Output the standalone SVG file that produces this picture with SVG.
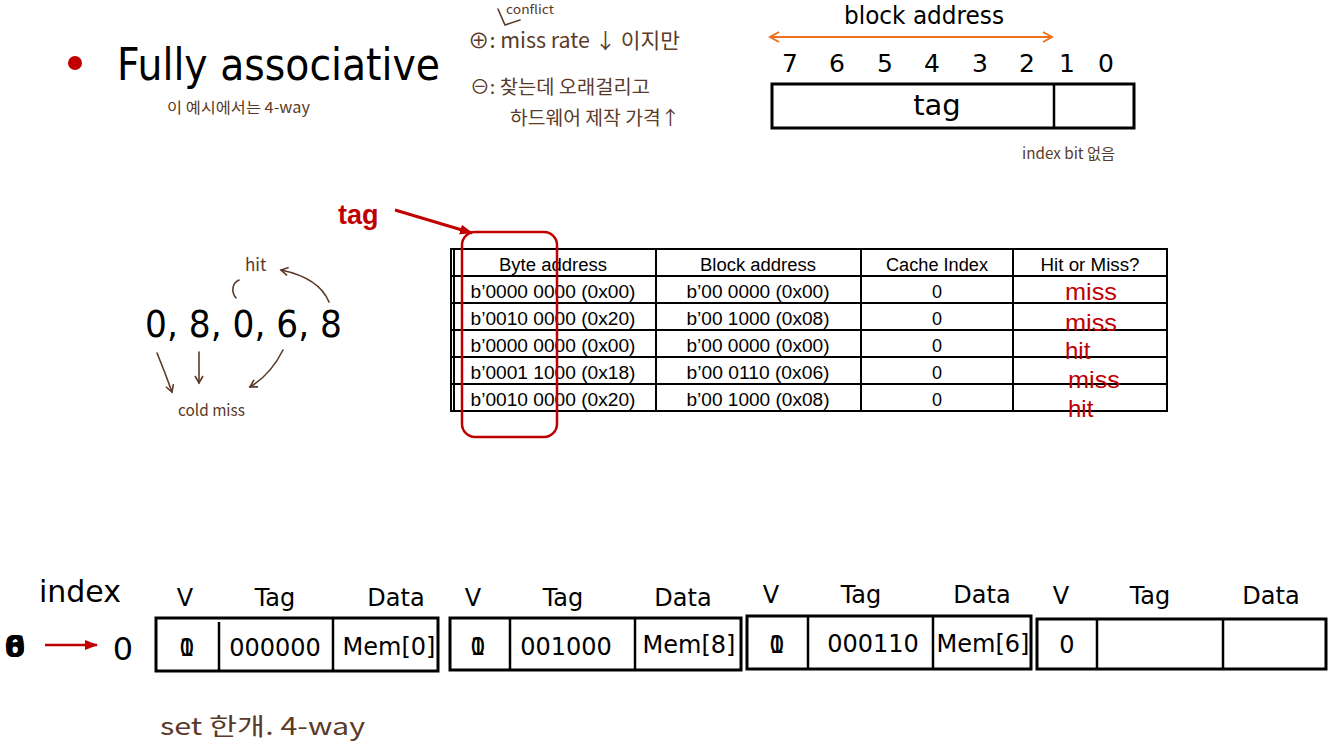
<svg xmlns="http://www.w3.org/2000/svg" width="1336" height="756" viewBox="0 0 1336 756">
<defs>
<style>
.t{font-family:"DejaVu Sans","Liberation Sans",sans-serif;fill:#000}
.c{font-family:"Liberation Sans","Noto Sans",sans-serif;fill:#000;font-size:18px;text-anchor:middle}
.r{font-family:"Liberation Sans","Noto Sans",sans-serif;fill:#c00000;font-size:24px}
.h{font-family:"Noto Sans CJK KR","Noto Sans",sans-serif;fill:#5a3a28;font-weight:400}
.box{fill:#fff;stroke:#000;stroke-width:3}
.ln{stroke:#000;stroke-width:2.5}
.tb{stroke:#000;stroke-width:2;fill:none}
.hw{stroke:#5a3a28;stroke-width:1.6;fill:none;stroke-linecap:round}
</style>
<marker id="oa" markerWidth="12" markerHeight="12" refX="10" refY="6" orient="auto-start-reverse" markerUnits="userSpaceOnUse"><path d="M1,1 L10,6 L1,11" fill="none" stroke="#f07020" stroke-width="2"/></marker>
<marker id="ra" markerWidth="14" markerHeight="12" refX="12" refY="6" orient="auto" markerUnits="userSpaceOnUse"><path d="M0,1 L13,6 L0,11 Z" fill="#c00000"/></marker>
<marker id="ha" markerWidth="10" markerHeight="10" refX="8" refY="5" orient="auto" markerUnits="userSpaceOnUse"><path d="M1,1 L8,5 L1,9" fill="none" stroke="#5a3a28" stroke-width="1.6"/></marker>
</defs>

<g id="title">
<circle cx="75" cy="63" r="7" fill="#c00000"/>
<text class="t" x="117" y="80" font-size="44" textLength="323" lengthAdjust="spacingAndGlyphs">Fully associative</text>
</g>

<g id="notes" class="h">
<text x="167" y="113" font-size="15" textLength="143" lengthAdjust="spacingAndGlyphs">이 예시에서는  4-way</text>
<text x="506" y="14" font-size="12" textLength="48" lengthAdjust="spacingAndGlyphs">conflict</text>
<text x="468" y="48" font-size="21" textLength="212" lengthAdjust="spacingAndGlyphs">⊕:  miss rate ↓ 이지만</text>
<text x="470" y="94" font-size="19" textLength="180" lengthAdjust="spacingAndGlyphs">⊖: 찾는데 오래걸리고</text>
<text x="510" y="125" font-size="19" textLength="170" lengthAdjust="spacingAndGlyphs">하드웨어  제작  가격↑</text>
<text x="1022" y="159" font-size="15" textLength="93" lengthAdjust="spacingAndGlyphs">index bit 없음</text>
<text x="245" y="271" font-size="17">hit</text>
<text x="178" y="416" font-size="16" textLength="67" lengthAdjust="spacingAndGlyphs">cold miss</text>
<text x="160" y="735" font-size="24" textLength="205" lengthAdjust="spacingAndGlyphs">set  한개.   4-way</text>
</g>
<g id="note-lines">
<path class="hw" d="M498,9 L505,25 L520,20"/>
</g>

<g id="block-address">
<text class="t" x="924" y="24" font-size="25" text-anchor="middle" textLength="160" lengthAdjust="spacingAndGlyphs">block address</text>
<line x1="770" y1="37" x2="1052" y2="37" stroke="#f07020" stroke-width="2" marker-start="url(#oa)" marker-end="url(#oa)"/>
<g class="t" font-size="25" text-anchor="middle">
<text x="790" y="72">7</text><text x="837" y="72">6</text><text x="885" y="72">5</text><text x="932" y="72">4</text><text x="980" y="72">3</text><text x="1027" y="72">2</text><text x="1067" y="72">1</text><text x="1106" y="72">0</text>
</g>
<rect class="box" x="772" y="84" width="362" height="44"/>
<line class="ln" x1="1054" y1="84" x2="1054" y2="128"/>
<text class="t" x="937" y="115" font-size="29" text-anchor="middle">tag</text>
</g>

<g id="sequence">
<text class="t" x="145" y="337" font-size="37" textLength="197" lengthAdjust="spacingAndGlyphs">0, 8, 0, 6, 8</text>
</g>
<g id="sequence-arrows">
<path class="hw" d="M236,298 C231,292 232,283 239,280"/>
<path class="hw" d="M329,302 C322,285 305,275 281,270" marker-end="url(#ha)"/>
<path class="hw" d="M157,353 C162,365 167,378 172,392" marker-end="url(#ha)"/>
<path class="hw" d="M199,352 L199,383" marker-end="url(#ha)"/>
<path class="hw" d="M283,350 C275,366 265,378 250,387" marker-end="url(#ha)"/>
</g>

<g id="tag-label">
<text x="338" y="224" font-family="Liberation Sans,sans-serif" font-weight="bold" font-size="27" fill="#c00000">tag</text>
</g>

<g id="table">
<rect class="tb" x="451" y="249" width="716" height="162"/>
<line class="tb" x1="454" y1="249" x2="454" y2="411"/>
<g class="tb">
<line x1="451" y1="276" x2="1167" y2="276"/>
<line x1="451" y1="303" x2="1167" y2="303"/>
<line x1="451" y1="330" x2="1167" y2="330"/>
<line x1="451" y1="357" x2="1167" y2="357"/>
<line x1="451" y1="384" x2="1167" y2="384"/>
<line x1="656" y1="249" x2="656" y2="411"/>
<line x1="861" y1="249" x2="861" y2="411"/>
<line x1="1013" y1="249" x2="1013" y2="411"/>
</g>
<text class="c" x="553" y="271" textLength="108" lengthAdjust="spacingAndGlyphs">Byte address</text>
<text class="c" x="758" y="271" textLength="116" lengthAdjust="spacingAndGlyphs">Block address</text>
<text class="c" x="937" y="271" textLength="102" lengthAdjust="spacingAndGlyphs">Cache Index</text>
<text class="c" x="1090" y="271" textLength="99" lengthAdjust="spacingAndGlyphs">Hit or Miss?</text>
<g class="c">
<text x="553" y="298" textLength="165" lengthAdjust="spacingAndGlyphs">b’0000 0000 (0x00)</text>
<text x="553" y="325" textLength="165" lengthAdjust="spacingAndGlyphs">b’0010 0000 (0x20)</text>
<text x="553" y="352" textLength="165" lengthAdjust="spacingAndGlyphs">b’0000 0000 (0x00)</text>
<text x="553" y="379" textLength="165" lengthAdjust="spacingAndGlyphs">b’0001 1000 (0x18)</text>
<text x="553" y="406" textLength="165" lengthAdjust="spacingAndGlyphs">b’0010 0000 (0x20)</text>
<text x="758" y="298" textLength="143" lengthAdjust="spacingAndGlyphs">b’00 0000 (0x00)</text>
<text x="758" y="325" textLength="143" lengthAdjust="spacingAndGlyphs">b’00 1000 (0x08)</text>
<text x="758" y="352" textLength="143" lengthAdjust="spacingAndGlyphs">b’00 0000 (0x00)</text>
<text x="758" y="379" textLength="143" lengthAdjust="spacingAndGlyphs">b’00 0110 (0x06)</text>
<text x="758" y="406" textLength="143" lengthAdjust="spacingAndGlyphs">b’00 1000 (0x08)</text>
<text x="937" y="298">0</text>
<text x="937" y="325">0</text>
<text x="937" y="352">0</text>
<text x="937" y="379">0</text>
<text x="937" y="406">0</text>
</g>
<text class="r" x="1065" y="300" textLength="52" lengthAdjust="spacingAndGlyphs">miss</text>
<text class="r" x="1065" y="331" textLength="52" lengthAdjust="spacingAndGlyphs">miss</text>
<text class="r" x="1065" y="359">hit</text>
<text class="r" x="1068" y="388" textLength="52" lengthAdjust="spacingAndGlyphs">miss</text>
<text class="r" x="1068" y="417">hit</text>
</g>

<g id="tag-highlight">
<rect x="462" y="232" width="95" height="205" rx="13" fill="none" stroke="#c00000" stroke-width="2.5"/>
</g>

<g id="connectors">
<line x1="395" y1="210" x2="472" y2="233" stroke="#c00000" stroke-width="3" marker-end="url(#ra)"/>
<line x1="45" y1="645" x2="97" y2="645" stroke="#c00000" stroke-width="2.5" marker-end="url(#ra)"/>
</g>

<g id="index">
<text class="t" x="80" y="602" font-size="30" text-anchor="middle">index</text>
<g class="t" font-size="30" font-weight="bold" text-anchor="middle">
<text x="15" y="657">8</text><text x="15" y="657">6</text><text x="15" y="657">0</text>
</g>
<text class="t" x="123" y="660" font-size="32" text-anchor="middle">0</text>
</g>

<g id="way0">
<rect class="box" x="156" y="618" width="282" height="53"/>
<line class="ln" x1="219" y1="622" x2="219" y2="671"/>
<line class="ln" x1="333" y1="618" x2="333" y2="671"/>
<g class="t" font-size="24" text-anchor="middle">
<text x="185" y="606">V</text><text x="275" y="606">Tag</text><text x="396" y="606">Data</text>
<text x="187" y="656">0</text><text x="187" y="656">1</text>
<text x="275" y="656">000000</text><text x="389" y="655">Mem[0]</text>
</g>
</g>

<g id="way1">
<rect class="box" x="450" y="618" width="291" height="52"/>
<line class="ln" x1="510" y1="618" x2="510" y2="670"/>
<line class="ln" x1="635" y1="618" x2="635" y2="670"/>
<g class="t" font-size="24" text-anchor="middle">
<text x="473" y="606">V</text><text x="563" y="606">Tag</text><text x="683" y="606">Data</text>
<text x="478" y="655">0</text><text x="478" y="655">1</text>
<text x="566" y="655">001000</text><text x="689" y="653">Mem[8]</text>
</g>
</g>

<g id="way2">
<rect class="box" x="747" y="616" width="284" height="53"/>
<line class="ln" x1="808" y1="616" x2="808" y2="669"/>
<line class="ln" x1="933" y1="616" x2="933" y2="669"/>
<g class="t" font-size="24" text-anchor="middle">
<text x="771" y="603">V</text><text x="861" y="603">Tag</text><text x="982" y="603">Data</text>
<text x="777" y="653">0</text><text x="777" y="653">1</text>
<text x="873" y="652">000110</text><text x="983" y="652">Mem[6]</text>
</g>
</g>

<g id="way3">
<rect class="box" x="1037" y="619" width="289" height="50"/>
<line class="ln" x1="1097" y1="619" x2="1097" y2="669"/>
<line class="ln" x1="1223" y1="619" x2="1223" y2="669"/>
<g class="t" font-size="24" text-anchor="middle">
<text x="1061" y="604">V</text><text x="1150" y="604">Tag</text><text x="1271" y="604">Data</text>
<text x="1067" y="653">0</text>
</g>
</g>
</svg>
